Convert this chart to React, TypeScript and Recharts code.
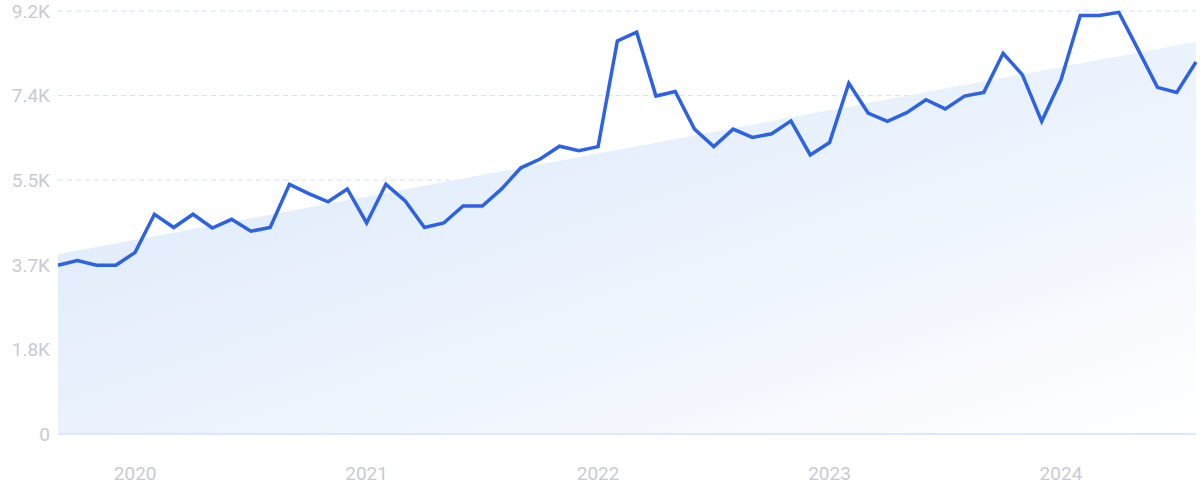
import React from "react";
import { ComposedChart, Area, Line, XAxis, YAxis, CartesianGrid } from "recharts";

const months: string[] = [
  "2019-09","2019-10","2019-11","2019-12",
  "2020-01","2020-02","2020-03","2020-04","2020-05","2020-06","2020-07","2020-08","2020-09","2020-10","2020-11","2020-12",
  "2021-01","2021-02","2021-03","2021-04","2021-05","2021-06","2021-07","2021-08","2021-09","2021-10","2021-11","2021-12",
  "2022-01","2022-02","2022-03","2022-04","2022-05","2022-06","2022-07","2022-08","2022-09","2022-10","2022-11","2022-12",
  "2023-01","2023-02","2023-03","2023-04","2023-05","2023-06","2023-07","2023-08","2023-09","2023-10","2023-11","2023-12",
  "2024-01","2024-02","2024-03","2024-04","2024-05","2024-06","2024-07","2024-08",
];

const volume: number[] = [
  3670, 3770, 3670, 3670,
  3950, 4780, 4490, 4780, 4480, 4670, 4410, 4490, 5430, 5230, 5050, 5330,
  4590, 5430, 5070, 4490, 4590, 4960, 4960, 5330, 5790, 5980, 6260, 6160,
  6250, 8550, 8740, 7350, 7450, 6630, 6250, 6630, 6450, 6530, 6810, 6070,
  6340, 7630, 6980, 6800, 6990, 7270, 7070, 7350, 7430, 8280, 7810, 6800,
  7700, 9100, 9100, 9170, 8360, 7540, 7430, 8090,
];

const trendStart = 3910;
const trendEnd = 8530;

const yTicks: number[] = [0, 1840, 3680, 5520, 7360, 9200];
const yearTicks: string[] = ["2020-01", "2021-01", "2022-01", "2023-01", "2024-01"];

const data = months.map((m, i) => ({
  month: m,
  volume: volume[i],
  trend: i === 0 ? trendStart : i === months.length - 1 ? trendEnd : null,
}));

const fmtY = (v: number) => (v === 0 ? "0" : (v / 1000).toFixed(1) + "K");
const fmtX = (v: string) => v.slice(0, 4);

const tickStyle = { fill: "#c9cad4", fontSize: 19, fontFamily: "Roboto, 'Noto Sans', sans-serif" };

export default function App() {
  return (
    <div style={{ position: "absolute", left: 0, top: 0, width: 1200, height: 499, background: "#fff" }}>
      <ComposedChart width={1200} height={499} data={data} margin={{ top: 11, right: 4, left: 0, bottom: 0 }}>
        <defs>
          <linearGradient id="trendFill" x1="0" y1="0" x2="1" y2="1">
            <stop offset="0%" stopColor="#d9e7fa" />
            <stop offset="55%" stopColor="#ecf3fd" />
            <stop offset="100%" stopColor="#ffffff" />
          </linearGradient>
        </defs>
        <CartesianGrid vertical={false} stroke="#cfe3fc" strokeDasharray="5 4" />
        <XAxis
          dataKey="month"
          ticks={yearTicks}
          interval={0}
          tickFormatter={fmtX}
          tickLine={false}
          axisLine={{ stroke: "#d3e3fa", strokeWidth: 1.5 }}
          tick={tickStyle}
          tickMargin={27}
          height={65}
        />
        <YAxis
          domain={[0, 9200]}
          ticks={yTicks}
          tickFormatter={fmtY}
          axisLine={false}
          tickLine={false}
          tick={tickStyle}
          width={58}
        />
        <Area
          dataKey="trend"
          type="linear"
          connectNulls
          stroke="none"
          fill="url(#trendFill)"
          fillOpacity={1}
          isAnimationActive={false}
          activeDot={false}
        />
        <Line
          dataKey="volume"
          type="linear"
          stroke="#2d62e3"
          strokeWidth={3.5}
          dot={false}
          activeDot={false}
          isAnimationActive={false}
        />
      </ComposedChart>
    </div>
  );
}
